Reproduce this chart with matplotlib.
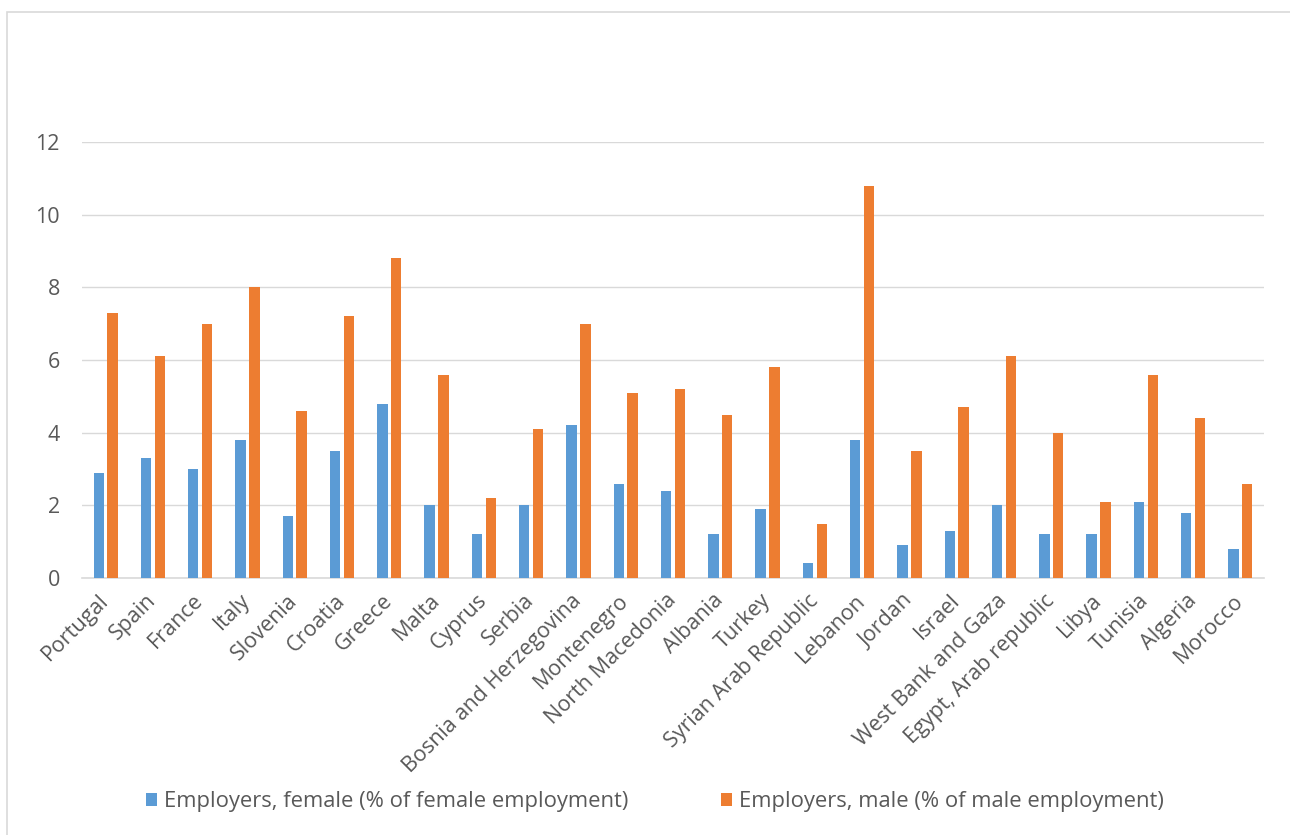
import matplotlib.pyplot as plt
import numpy as np
from matplotlib.patches import Rectangle

countries = ['Portugal', 'Spain', 'France', 'Italy', 'Slovenia', 'Croatia', 'Greece',
             'Malta', 'Cyprus', 'Serbia', 'Bosnia and Herzegovina', 'Montenegro',
             'North Macedonia', 'Albania', 'Turkey', 'Syrian Arab Republic', 'Lebanon',
             'Jordan', 'Israel', 'West Bank and Gaza', 'Egypt, Arab republic', 'Libya',
             'Tunisia', 'Algeria', 'Morocco']
female = [2.9, 3.3, 3.0, 3.8, 1.7, 3.5, 4.8, 2.0, 1.2, 2.0, 4.2, 2.6, 2.4,
          1.2, 1.9, 0.4, 3.8, 0.9, 1.3, 2.0, 1.2, 1.2, 2.1, 1.8, 0.8]
male = [7.3, 6.1, 7.0, 8.0, 4.6, 7.2, 8.8, 5.6, 2.2, 4.1, 7.0, 5.1, 5.2,
        4.5, 5.8, 1.5, 10.8, 3.5, 4.7, 6.1, 4.0, 2.1, 5.6, 4.4, 2.6]
yticks = [0, 2, 4, 6, 8, 10, 12]

label_female = 'Employers, female (% of female employment)'
label_male = 'Employers, male (% of male employment)'

plt.rcParams['font.family'] = ['Open Sans', 'DejaVu Sans']
text_color = '#595959'
fs = 15.5

fig = plt.figure(figsize=(12.9, 8.35), dpi=100)
ax = fig.add_axes([82 / 1290, 1 - 578 / 835, (1264 - 82) / 1290, (578 - 142) / 835])

x = np.arange(len(countries))
w = 0.22
ax.bar(x - 0.146, female, w, color='#5B9BD5', label=label_female, zorder=3)
ax.bar(x + 0.146, male, w, color='#ED7D31', label=label_male, zorder=3)

ax.set_xlim(-0.5, len(countries) - 0.5)
ax.set_ylim(0, 12)
ax.set_yticks(yticks)
ax.yaxis.grid(True, color='#d9d9d9', linewidth=1.0, zorder=0)
for s in ['top', 'right', 'left']:
    ax.spines[s].set_visible(False)
ax.spines['bottom'].set_color('#d9d9d9')
ax.spines['bottom'].set_linewidth(1.2)
ax.tick_params(axis='both', length=0, labelsize=fs, labelcolor=text_color)
ax.tick_params(axis='y', pad=16)
ax.tick_params(axis='x', pad=14)

ax.set_xticks(x)
ax.set_xticklabels(countries, rotation=45, ha='right', va='center', rotation_mode='anchor')

fig.legend(loc='center', bbox_to_anchor=(655 / 1290, 1 - 802 / 835), ncol=2, frameon=False,
           fontsize=15.8, labelcolor=text_color, handlelength=0.5, handleheight=0.5,
           handletextpad=0.35, columnspacing=4.2)

# chart frame
fig.patches.append(Rectangle((7 / 1290, -0.05), 1.2, 1 - 12 / 835 + 0.05,
                             transform=fig.transFigure, fill=False,
                             edgecolor='#d9d9d9', linewidth=1.2))

fig.savefig('out.png', dpi=100)
